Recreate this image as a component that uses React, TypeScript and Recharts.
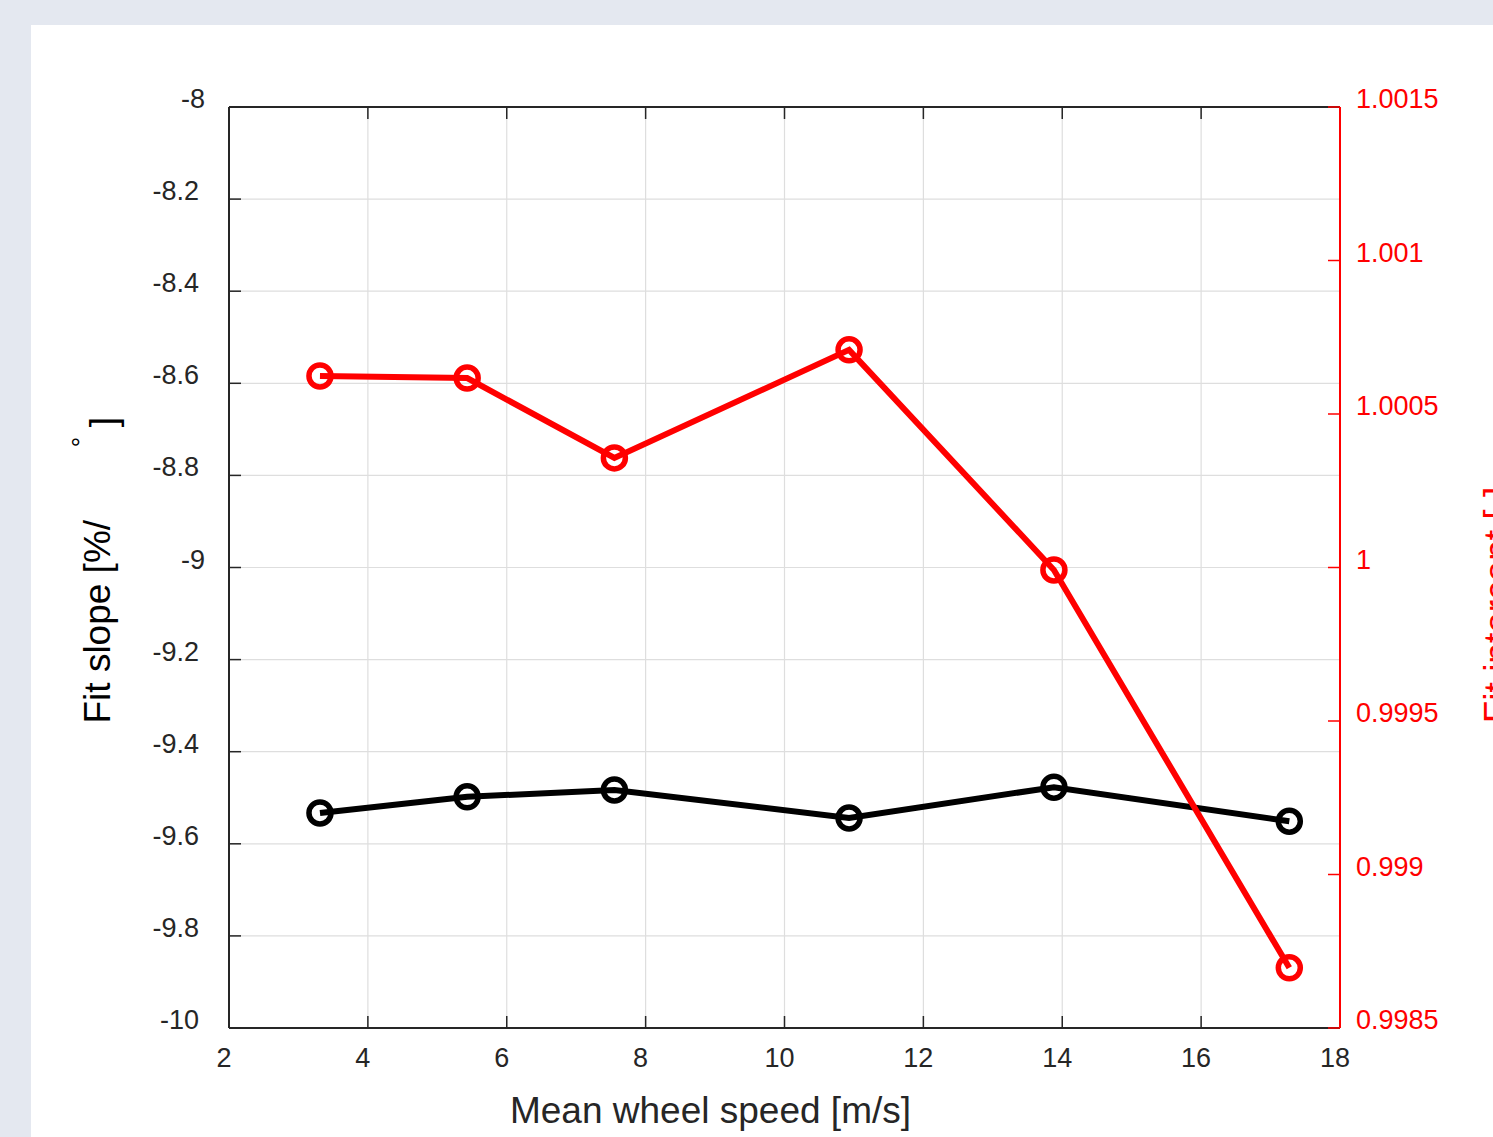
import React from 'react';
import { LineChart, Line, XAxis, YAxis, CartesianGrid } from 'recharts';

const speeds = [3.31, 5.43, 7.55, 10.93, 13.88, 17.27];
const slopeValues = [-9.533, -9.498, -9.483, -9.544, -9.477, -9.551];
const interceptValues = [1.000624, 1.000617, 1.000357, 1.000709, 0.999992, 0.998696];
const xTicks = [2, 4, 6, 8, 10, 12, 14, 16, 18];
const slopeTicks = [-10, -9.8, -9.6, -9.4, -9.2, -9, -8.8, -8.6, -8.4, -8.2, -8];
const interceptTicks = [0.9985, 0.999, 0.9995, 1, 1.0005, 1.001, 1.0015];

const xLabel = 'Mean wheel speed [m/s]';
const slopeLabelMain = 'Fit slope [%/';
const slopeLabelSup = '°';
const slopeLabelEnd = ']';
const interceptLabel = 'Fit intercept [-]';

const data = speeds.map((x, i) => ({ x, slope: slopeValues[i], intercept: interceptValues[i] }));

const FONT = '"Liberation Sans", Arial, Helvetica, sans-serif';
const DARK = '#262626';
const RED = '#ff0000';
const GRID = '#dedede';
const TICK_FS = 27;
const TITLE_FS = 37;

const XTick = (props: any) => {
  const { x, y, payload } = props;
  return (
    <text x={x - 5} y={y} textAnchor="middle" fontFamily={FONT} fontSize={TICK_FS} fill={DARK}>
      {String(payload.value)}
    </text>
  );
};

const LeftTick = (props: any) => {
  const { x, y, payload } = props;
  const label = String(payload.value);
  const adj = /^-\d$/.test(label) ? 6 : 0;
  return (
    <text x={x + adj} y={y + 1} textAnchor="end" fontFamily={FONT} fontSize={TICK_FS} fill={DARK}>
      {label}
    </text>
  );
};

const RightTick = (props: any) => {
  const { x, y, payload } = props;
  return (
    <text x={x} y={y + 1} textAnchor="start" fontFamily={FONT} fontSize={TICK_FS} fill={RED}>
      {String(payload.value)}
    </text>
  );
};

const NoTick = () => <g />;

const XTitle = (props: any) => {
  const vb = props.viewBox || {};
  const cx = vb.x + vb.width / 2 - 74;
  const y = vb.y + 95;
  return (
    <text x={cx} y={y} textAnchor="middle" fontFamily={FONT} fontSize={TITLE_FS} fill={DARK}>
      {xLabel}
    </text>
  );
};

const LeftTitle = (props: any) => {
  const vb = props.viewBox || {};
  const cy = vb.y + vb.height / 2;
  const bx = vb.x - 59;
  const sy = cy + 156;
  const degX = vb.x - 79;
  const degY = cy - 125.5;
  const brX = vb.x - 53;
  const brY = cy - 145.5;
  return (
    <g>
      <text x={bx} y={sy} transform={`rotate(-90, ${bx}, ${sy})`} textAnchor="start" fontFamily={FONT} fontSize={TITLE_FS} fill="#000">
        {slopeLabelMain}
      </text>
      <text x={degX} y={degY} transform={`rotate(-90, ${degX}, ${degY})`} textAnchor="middle" fontFamily={FONT} fontSize={26} fill="#000">
        {slopeLabelSup}
      </text>
      <text x={brX} y={brY} transform={`rotate(-90, ${brX}, ${brY})`} textAnchor="middle" fontFamily={FONT} fontSize={TITLE_FS} fill="#000">
        {slopeLabelEnd}
      </text>
    </g>
  );
};

const RightTitle = (props: any) => {
  const vb = props.viewBox || {};
  const cy = vb.y + vb.height / 2 + 37.5;
  const bx = vb.x + 170;
  return (
    <text x={bx} y={cy} transform={`rotate(-90, ${bx}, ${cy})`} textAnchor="middle" fontFamily={FONT} fontSize={TITLE_FS} fill={RED}>
      {interceptLabel}
    </text>
  );
};

export default function App() {
  return (
    <div style={{ position: 'absolute', left: 0, top: 0, width: 1493, height: 1137, background: '#e4e8f0', overflow: 'hidden' }}>
      <div style={{ position: 'absolute', left: 31, top: 25, width: 1493 - 31, height: 1137 - 25, background: '#ffffff' }} />
      <div style={{ position: 'absolute', left: 0, top: 0 }}>
        <LineChart width={1493} height={1137} data={data} margin={{ top: 97, right: 93, bottom: 69, left: 169 }}>
          <CartesianGrid yAxisId="left" xAxisId="bottom" stroke={GRID} strokeWidth={1.2} />
          <XAxis
            xAxisId="bottom"
            dataKey="x"
            type="number"
            domain={[2, 18]}
            ticks={xTicks}
            allowDataOverflow
            height={40}
            tickSize={-12}
            tickMargin={51}
            tick={XTick}
            axisLine={{ stroke: DARK, strokeWidth: 2 }}
            tickLine={{ stroke: DARK, strokeWidth: 1.5 }}
            label={{ content: XTitle }}
          />
          <XAxis
            xAxisId="top"
            orientation="top"
            dataKey="x"
            type="number"
            domain={[2, 18]}
            ticks={xTicks}
            allowDataOverflow
            height={10}
            tickSize={-12}
            tick={NoTick}
            axisLine={{ stroke: DARK, strokeWidth: 2 }}
            tickLine={{ stroke: DARK, strokeWidth: 1.5 }}
          />
          <YAxis
            yAxisId="left"
            type="number"
            domain={[-10, -8]}
            ticks={slopeTicks}
            allowDataOverflow
            width={60}
            tickSize={-12}
            tickMargin={42}
            tick={LeftTick}
            axisLine={{ stroke: DARK, strokeWidth: 2 }}
            tickLine={{ stroke: DARK, strokeWidth: 1.5 }}
            label={{ content: LeftTitle }}
          />
          <YAxis
            yAxisId="right"
            orientation="right"
            type="number"
            domain={[0.9985, 1.0015]}
            ticks={interceptTicks}
            allowDataOverflow
            width={60}
            tickSize={-12}
            tickMargin={28}
            tick={RightTick}
            axisLine={{ stroke: RED, strokeWidth: 2 }}
            tickLine={{ stroke: RED, strokeWidth: 1.5 }}
            label={{ content: RightTitle }}
          />
          <Line
            xAxisId="bottom"
            yAxisId="left"
            dataKey="slope"
            type="linear"
            stroke="#000000"
            strokeWidth={6}
            dot={{ r: 11, stroke: '#000000', strokeWidth: 5.5, fill: 'none' }}
            activeDot={false}
            isAnimationActive={false}
          />
          <Line
            xAxisId="bottom"
            yAxisId="right"
            dataKey="intercept"
            type="linear"
            stroke={RED}
            strokeWidth={6}
            dot={{ r: 11, stroke: RED, strokeWidth: 5.5, fill: 'none' }}
            activeDot={false}
            isAnimationActive={false}
          />
        </LineChart>
      </div>
    </div>
  );
}
